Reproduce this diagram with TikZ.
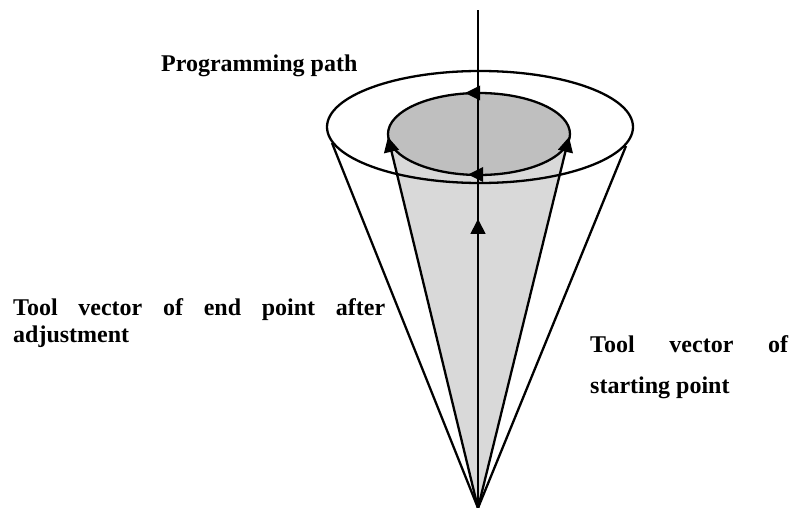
\documentclass[tikz,border=0pt]{standalone}
\usepackage{fontspec}
\setmainfont{Liberation Serif}
\usetikzlibrary{arrows.meta}
\tikzset{
  ln/.style={line width=2.3pt,black},
  tip/.style={-{Triangle[length=15pt,width=15pt]},ln,shorten >=0pt},
  lab/.style={font=\fontsize{24}{24}\selectfont\bfseries,inner sep=0pt,anchor=base west}
}
\begin{document}
\begin{tikzpicture}[x=1pt,y=-1pt]
\useasboundingbox (0,0) rectangle (796,508);
\coordinate (apex) at (478,508);
\coordinate (top) at (478,10);
\coordinate (mid) at (478,219);
\coordinate (outerL) at (332,143);
\coordinate (outerR) at (626,146);
\coordinate (innerL) at (388,137);
\coordinate (innerR) at (569,137);
\fill[fill=black!15] (apex) -- (innerL) -- (innerR) -- cycle;
\draw[ln,fill=black!25] (479,134) ellipse [x radius=91,y radius=41];
\draw[ln] (480,127) ellipse [x radius=153,y radius=56];
\draw[ln] (apex) -- (outerL);
\draw[ln] (apex) -- (outerR);
\draw[tip] (apex) -- (innerL);
\draw[tip] (apex) -- (innerR);
\draw[ln,line width=1.7pt] (apex) -- (top);
\draw[tip,line width=1.7pt] (apex) -- (mid);
\coordinate (a1) at (479,93);
\coordinate (a1t) at (465,93);
\coordinate (a2) at (483,174.5);
\coordinate (a2t) at (468,174.5);
\draw[tip,line width=0pt] (a1) -- (a1t);
\draw[tip,line width=0pt] (a2) -- (a2t);
\node[lab] (prog) at (161,72) {Programming path};
\node[lab] (endv) at (13,315) {\makebox[372pt][s]{Tool vector of end point after}};
\node[lab] (endw) at (13,342) {adjustment};
\node[lab] (st1) at (590,352) {\makebox[198pt][s]{Tool vector of}};
\node[lab] (st2) at (590,393) {starting point};
\end{tikzpicture}
\end{document}
